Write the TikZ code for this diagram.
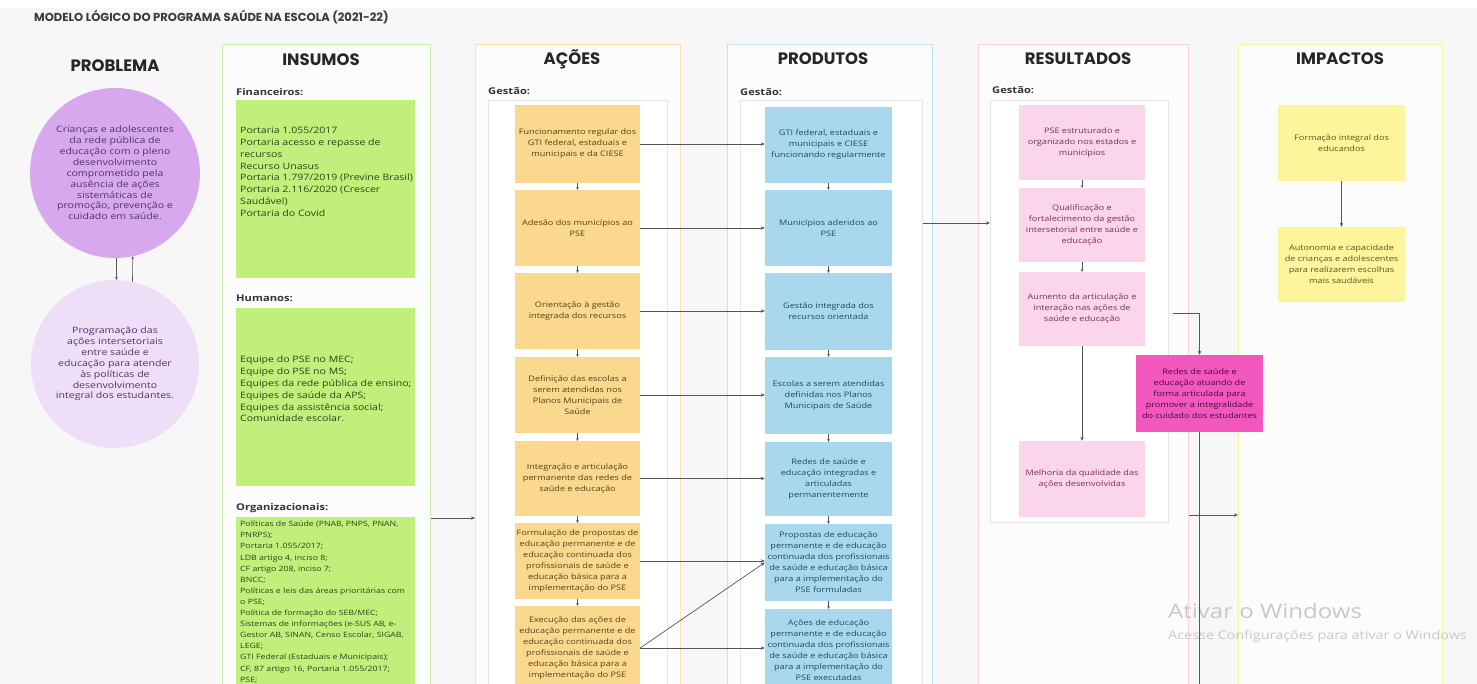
\documentclass[tikz,border=0pt]{standalone}
\usepackage{fontspec}
\setmainfont{Open Sans}[FakeStretch=1.2]
\newfontfamily\headfont{Poppins}
\usetikzlibrary{arrows.meta,calc}
\definecolor{bg}{HTML}{F7F7F8}
\definecolor{frfill}{HTML}{FCFCFC}
\definecolor{insB}{HTML}{CDEFAE}
\definecolor{insF}{HTML}{C0EF7C}
\definecolor{acoB}{HTML}{FBE2B2}
\definecolor{acoF}{HTML}{FAD88E}
\definecolor{proB}{HTML}{C2E3F1}
\definecolor{proF}{HTML}{A9D8EE}
\definecolor{resB}{HTML}{F8D3DF}
\definecolor{resF}{HTML}{FBD5EA}
\definecolor{magF}{HTML}{F257BE}
\definecolor{impB}{HTML}{F4F4A2}
\definecolor{impF}{HTML}{FCF59C}
\definecolor{purA}{HTML}{D8A8EF}
\definecolor{purB}{HTML}{EEDEF8}
\definecolor{lineC}{HTML}{555555}
\definecolor{panelB}{HTML}{E4E4E6}
\definecolor{wmC}{HTML}{C8C8C8}
\definecolor{titleC}{HTML}{3A3A3A}
\definecolor{txG}{HTML}{2E4418}
\definecolor{txO}{HTML}{5A4216}
\definecolor{txB}{HTML}{1E4A5E}
\definecolor{txP}{HTML}{7A2E60}
\definecolor{txM}{HTML}{4A0A36}
\definecolor{txY}{HTML}{5C5522}
\definecolor{txC}{HTML}{55306A}
\begin{document}
\begin{tikzpicture}[x=1pt,y=-1pt,
  colfr/.style={draw=#1, line width=1.3pt, fill=frfill, inner sep=0pt, anchor=north west},
  panel/.style={draw=panelB, line width=0.6pt, fill=white, inner sep=0pt, anchor=north west},
  head/.style={font=\headfont\bfseries\fontsize{16.5}{18}\selectfont, text=black!85},
  lab/.style={font=\bfseries\fontsize{9.3}{11}\selectfont, text=black!80, anchor=west, inner sep=0pt},
  body/.style={font=\fontsize{7.6}{11}\selectfont, align=center, inner sep=0pt},
  abox/.style={body, fill=acoF, text=txO, minimum width=125pt},
  pbox/.style={body, fill=proF, text=txB, minimum width=127pt},
  rbox/.style={body, fill=resF, text=txP, minimum width=126pt},
  ibox/.style={body, fill=impF, text=txY, minimum width=127pt},
  gbox/.style={fill=insF, inner sep=0pt, minimum width=179pt, anchor=north},
  gtext/.style={font=\fontsize{8.8}{11.8}\selectfont, align=left, anchor=north west, inner sep=0pt, text=txG},
  ctext/.style={font=\fontsize{8.8}{10.9}\selectfont, align=center, text=txC},
  arr/.style={draw=lineC, line width=0.7pt, -{Stealth[length=4pt,width=3.4pt]}},
  sarr/.style={draw=lineC, line width=0.6pt, -{Stealth[length=2.6pt,width=2.6pt]}},
  plain/.style={draw=lineC, line width=1pt}
]
\useasboundingbox (0,0) rectangle (1477,684);
\clip (0,0) rectangle (1477,684);
\fill[bg] (0,0) rectangle (1477,684);
\fill[white] (0,0) rectangle (1477,8);

% title
\node[anchor=west, inner sep=0pt, font=\headfont\bfseries\fontsize{11.6}{13}\selectfont, text=titleC] (title) at (34,17) {MODELO LÓGICO DO PROGRAMA SAÚDE NA ESCOLA (2021-22)};

% PROBLEMA
\node[head] (hprob) at (115,66) {PROBLEMA};
\node[circle, fill=purA, minimum size=170pt, inner sep=0pt, ctext] (c1) at (115,173)
  {Crianças e adolescentes\\da rede pública de\\educação com o pleno\\desenvolvimento\\comprometido pela\\ausência de ações\\sistemáticas de\\promoção, prevenção e\\cuidado em saúde.};
\node[circle, fill=purB, minimum size=168pt, inner sep=0pt, ctext] (c2) at (115,364)
  {Programação das\\ações intersetoriais\\entre saúde e\\educação para atender\\às políticas de\\desenvolvimento\\integral dos estudantes.};
\draw[sarr] (c1.-89) -- (c2.89);
\draw[sarr] (c2.78.5) -- (c1.-78.5);

% INSUMOS
\node[colfr=insB, minimum width=208pt, minimum height=660pt] (insfr) at (222,44) {};
\node[head] (hins) at (321,60) {INSUMOS};
\node[lab] (lfin) at (236,92) {Financeiros:};
\node[gbox, minimum height=178pt] (fin) at (325.5,100) {};
\node[gtext] (fintx) at (240,127) {Portaria 1.055/2017\\Portaria acesso e repasse de\\recursos\\Recurso Unasus\\Portaria 1.797/2019 (Previne Brasil)\\Portaria 2.116/2020 (Crescer\\Saudável)\\Portaria do Covid};
\node[lab] (lhum) at (236,298) {Humanos:};
\node[gbox, minimum height=178pt] (hum) at (325.5,308) {};
\node[gtext] (humtx) at (240,356) {Equipe do PSE no MEC;\\Equipe do PSE no MS;\\Equipes da rede pública de ensino;\\Equipes de saúde da APS;\\Equipes da assistência social;\\Comunidade escolar.};
\node[lab] (lorg) at (236,508) {Organizacionais:};
\node[gbox, minimum height=190pt] (org) at (325.5,517) {};
\node[gtext, font=\fontsize{7.3}{11.1}\selectfont] (orgtx) at (240,521) {Políticas de Saúde (PNAB, PNPS, PNAN,\\PNRPS);\\Portaria 1.055/2017;\\LDB artigo 4, inciso 8;\\CF artigo 208, inciso 7;\\BNCC;\\Políticas e leis das áreas prioritárias com\\o PSE;\\Política de formação do SEB/MEC;\\Sistemas de informações (e-SUS AB, e-\\Gestor AB, SINAN, Censo Escolar, SIGAB,\\LEGE;\\GTI Federal (Estaduais e Municipais);\\CF, 87 artigo 16, Portaria 1.055/2017;\\PSE;};

% AÇÕES
\node[colfr=acoB, minimum width=205pt, minimum height=660pt] (acofr) at (475,44) {};
\node[head] (haco) at (572,59) {AÇÕES};
\node[panel, minimum width=179pt, minimum height=620pt] (acopan) at (488,100) {};
\node[lab] (laco) at (488,91) {Gestão:};
\node[abox, minimum height=78pt] (a1) at (577.5,144) {Funcionamento regular dos\\GTI federal, estaduais e\\municipais e da CIESE};
\node[abox, minimum height=76pt] (a2) at (577.5,228) {Adesão dos municípios ao\\PSE};
\node[abox, minimum height=76pt] (a3) at (577.5,311) {Orientação à gestão\\integrada dos recursos};
\node[abox, minimum height=76pt] (a4) at (577.5,395) {Definição das escolas a\\serem atendidas nos\\Planos Municipais de\\Saúde};
\node[abox, minimum height=75pt] (a5) at (577.5,478.5) {Integração e articulação\\permanente das redes de\\saúde e educação};
\node[abox, minimum height=76pt] (a6) at (577.5,561) {Formulação de propostas de\\educação permanente e de\\educação continuada dos\\profissionais de saúde e\\educação básica para a\\implementação do PSE};
\node[abox, minimum height=84pt] (a7) at (577.5,648) {Execução das ações de\\educação permanente e de\\educação continuada dos\\profissionais de saúde e\\educação básica para a\\implementação do PSE};
\foreach \u/\v in {a1/a2,a2/a3,a3/a4,a4/a5,a5/a6,a6/a7} \draw[sarr] (\u.south) -- (\v.north);

% PRODUTOS
\node[colfr=proB, minimum width=205pt, minimum height=660pt] (profr) at (727,44) {};
\node[head] (hpro) at (823,59) {PRODUTOS};
\node[panel, minimum width=182pt, minimum height=620pt] (propan) at (740,100) {};
\node[lab] (lpro) at (740,92) {Gestão:};
\node[pbox, minimum height=76pt] (p1) at (828.5,145) {GTI federal, estaduais e\\municipais e CIESE\\funcionando regularmente};
\node[pbox, minimum height=76pt] (p2) at (828.5,228) {Municípios aderidos ao\\PSE};
\node[pbox, minimum height=77pt] (p3) at (828.5,311.5) {Gestão integrada dos\\recursos orientada};
\node[pbox, minimum height=77pt] (p4) at (828.5,395.5) {Escolas a serem atendidas\\definidas nos Planos\\Municipais de Saúde};
\node[pbox, minimum height=74pt] (p5) at (828.5,479) {Redes de saúde e\\educação integradas e\\articuladas\\permanentemente};
\node[pbox, minimum height=77pt] (p6) at (828.5,562.5) {Propostas de educação\\permanente e de educação\\continuada dos profissionais\\de saúde e educação básica\\para a implementação do\\PSE formuladas};
\node[pbox, minimum height=83pt] (p7) at (828.5,650.5) {Ações de educação\\permanente e de educação\\continuada dos profissionais\\de saúde e educação básica\\para a implementação do\\PSE executadas};
\foreach \u/\v in {p1/p2,p2/p3,p3/p4,p4/p5,p5/p6,p6/p7} \draw[sarr] (\u.south) -- (\v.north);

% Ações -> Produtos
\foreach \i in {1,...,7} \draw[arr] (a\i.east) -- (a\i.east -| p\i.west);
\draw[arr] (a7.east) -- (p6.west);

% RESULTADOS
\node[colfr=resB, minimum width=210pt, minimum height=660pt] (resfr) at (978,44) {};
\node[head] (hres) at (1078,59) {RESULTADOS};
\node[panel, minimum width=178pt, minimum height=422pt] (respan) at (990,100) {};
\node[lab] (lres) at (992,90) {Gestão:};
\node[rbox, minimum height=75pt] (r1) at (1082,142.5) {PSE estruturado e\\organizado nos estados e\\municípios};
\node[rbox, minimum height=74pt] (r2) at (1082,225) {Qualificação e\\fortalecimento da gestão\\intersetorial entre saúde e\\educação};
\node[rbox, minimum height=74pt] (r3) at (1082,309) {Aumento da articulação e\\interação nas ações de\\saúde e educação};
\node[rbox, minimum height=76pt] (r4) at (1082,479) {Melhoria da qualidade das\\ações desenvolvidas};
\draw[sarr] (r1.south) -- (r2.north);
\draw[sarr] (r2.south) -- (r3.north);
\draw[arr] (r3.south) -- (r4.north);

% IMPACTOS
\node[colfr=impB, minimum width=204pt, minimum height=660pt] (impfr) at (1238,44) {};
\node[head] (himp) at (1340,59) {IMPACTOS};
\node[ibox, minimum height=76pt] (i1) at (1341.5,143) {Formação integral dos\\educandos};
\node[ibox, minimum height=75pt] (i2) at (1341.5,264.5) {Autonomia e capacidade\\de crianças e adolescentes\\para realizarem escolhas\\mais saudáveis};
\draw[arr] (i1.south) -- (i2.north);

% magenta result (over the frames)
\node[body, fill=magF, text=txM, minimum width=127pt, minimum height=77pt] (mag) at (1199.5,393.5) {Redes de saúde e\\educação atuando de\\forma articulada para\\promover a integralidade\\do cuidado dos estudantes};

% watermark
\node[anchor=west, inner sep=0pt, text=wmC, font=\fontsize{20}{23}\selectfont] (wm1) at (1168,611) {Ativar o Windows};
\node[anchor=west, inner sep=0pt, text=wmC, font=\fontsize{12}{14}\selectfont] (wm2) at (1168,636) {Acesse Configurações para ativar o Windows};

% column connectors
\coordinate (y518) at (0,518);
\coordinate (y223) at (0,223);
\coordinate (y313) at (0,313);
\coordinate (y515) at (0,515);
\coordinate (ybot) at (0,700);
\draw[arr] (insfr.east |- y518) -- (acofr.west |- y518);
\draw[arr] (propan.east |- y223) -- (respan.west |- y223);
\coordinate (rs) at ($(respan.east |- y313)+(4,0)$);
\draw[arr] (rs) -| (mag.north);
\coordinate (mb) at (mag.south |- ybot);
\draw[plain] (mag.south) -- (mb);
\draw[arr] (resfr.east |- y515) -- (impfr.west |- y515);
\end{tikzpicture}
\end{document}
